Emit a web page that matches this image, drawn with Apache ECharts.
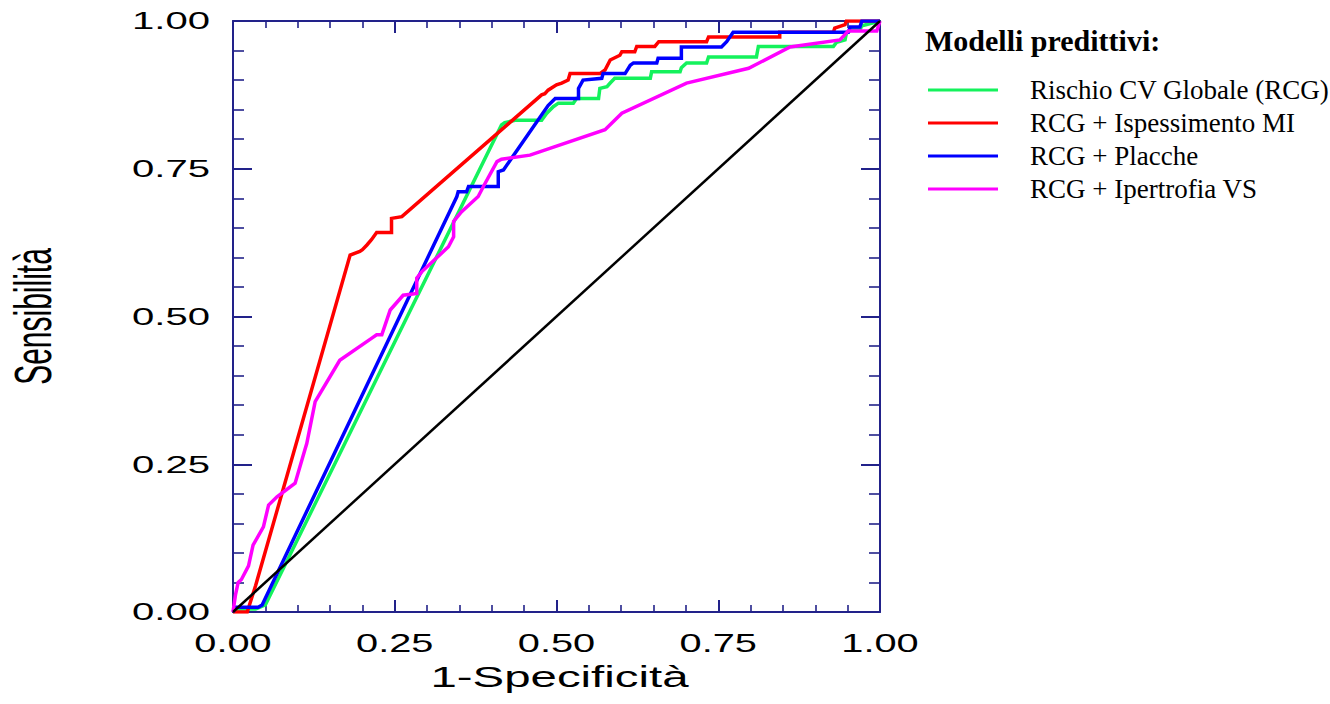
<!DOCTYPE html>
<html>
<head>
<meta charset="utf-8">
<title>Curve ROC – Modelli predittivi</title>
<script src="https://cdn.jsdelivr.net/npm/echarts/dist/echarts.min.js"></script>
<style>
  html, body { margin: 0; padding: 0; background: #fff; }
  #chart { width: 1330px; height: 704px; }
</style>
</head>
<body>
<div id="chart"></div>
<script>
// ROC curves: [1-specificity, sensitivity]
const rcg = [
  [0, 0], [0.008, 0.005], [0.035, 0.005], [0.05, 0.012], [0.415, 0.824], [0.42, 0.828],
  [0.436, 0.832], [0.477, 0.832], [0.485, 0.844], [0.495, 0.855], [0.503, 0.861],
  [0.526, 0.861], [0.531, 0.869], [0.565, 0.869], [0.567, 0.886], [0.578, 0.889],
  [0.583, 0.895], [0.590, 0.903], [0.645, 0.903], [0.647, 0.914], [0.691, 0.914],
  [0.693, 0.921], [0.701, 0.929], [0.732, 0.929], [0.735, 0.939], [0.809, 0.939],
  [0.812, 0.957], [0.928, 0.957], [0.933, 0.964], [0.946, 0.968], [0.948, 0.979],
  [0.955, 0.985], [0.969, 0.985], [0.972, 0.992], [1, 1]
];
const rcgIspessimento = [
  [0, 0], [0.022, 0], [0.035, 0.045], [0.181, 0.604], [0.196, 0.610], [0.200, 0.613],
  [0.207, 0.621], [0.214, 0.630], [0.222, 0.642], [0.245, 0.642], [0.245, 0.666],
  [0.261, 0.669], [0.477, 0.875], [0.482, 0.877], [0.487, 0.883], [0.500, 0.892],
  [0.508, 0.895], [0.518, 0.900], [0.521, 0.911], [0.567, 0.911], [0.575, 0.917],
  [0.583, 0.934], [0.598, 0.942], [0.601, 0.948], [0.621, 0.948], [0.624, 0.957],
  [0.652, 0.957], [0.658, 0.965], [0.732, 0.965], [0.735, 0.973], [0.845, 0.973],
  [0.845, 0.981], [0.928, 0.981], [0.930, 0.988], [0.946, 0.994], [0.948, 1.0], [1, 1]
];
const rcgPlacche = [
  [0, 0], [0.004, 0.008], [0.039, 0.008], [0.045, 0.012], [0.346, 0.703], [0.348, 0.711],
  [0.361, 0.711], [0.364, 0.720], [0.410, 0.720], [0.410, 0.745], [0.418, 0.748],
  [0.487, 0.857], [0.498, 0.869], [0.534, 0.869], [0.534, 0.886], [0.541, 0.900],
  [0.570, 0.903], [0.572, 0.911], [0.606, 0.911], [0.614, 0.925], [0.619, 0.929],
  [0.655, 0.929], [0.657, 0.937], [0.693, 0.937], [0.693, 0.956], [0.755, 0.956],
  [0.763, 0.965], [0.773, 0.981], [0.951, 0.981], [0.954, 0.990], [0.969, 0.990],
  [0.972, 1.0], [1, 1]
];
const rcgIpertrofia = [
  [0, 0], [0.004, 0.03], [0.008, 0.05], [0.013, 0.055], [0.024, 0.078], [0.031, 0.113],
  [0.047, 0.144], [0.055, 0.181], [0.068, 0.195], [0.096, 0.218], [0.111, 0.274],
  [0.114, 0.285], [0.127, 0.356], [0.165, 0.426], [0.214, 0.463], [0.222, 0.469],
  [0.230, 0.469], [0.243, 0.511], [0.263, 0.536], [0.284, 0.539], [0.284, 0.565],
  [0.292, 0.576], [0.333, 0.618], [0.341, 0.635], [0.341, 0.661], [0.353, 0.677],
  [0.379, 0.703], [0.387, 0.720], [0.408, 0.762], [0.415, 0.766], [0.459, 0.773],
  [0.575, 0.816], [0.601, 0.844], [0.701, 0.895], [0.797, 0.920], [0.861, 0.956],
  [0.938, 0.968], [0.951, 0.983], [0.995, 0.983], [1, 1]
];
const reference = [[0, 0], [1, 1]];

const seriesNames = [
  'Rischio CV Globale (RCG)',
  'RCG + Ispessimento MI',
  'RCG + Placche',
  'RCG + Ipertrofia VS'
];
const xTickLabels = ['0.00', '0.25', '0.50', '0.75', '1.00'];
const yTickLabels = ['0.00', '0.25', '0.50', '0.75', '1.00'];
const xAxisTitle = '1-Specificità';
const yAxisTitle = 'Sensibilità';
const legendTitle = 'Modelli predittivi:';

const axisColor = '#22228a';
const colors = ['#14f25c', '#ff0000', '#0000ff', '#ff00ff'];

const chart = echarts.init(document.getElementById('chart'), null, { renderer: 'svg' });

function axis(position, majorLen, minorLen) {
  return {
    type: 'value', min: 0, max: 1, interval: 0.25, position: position,
    axisLine: { show: true, onZero: false, lineStyle: { color: axisColor, width: 2 } },
    axisTick: { show: true, inside: true, length: majorLen, lineStyle: { color: axisColor, width: 2 } },
    minorTick: { show: true, splitNumber: 5, length: minorLen, lineStyle: { color: axisColor, width: 1.6 } },
    axisLabel: { show: false },
    splitLine: { show: false },
    minorSplitLine: { show: false }
  };
}

function curve(name, data, color) {
  return {
    name: name, type: 'line', data: data, color: color,
    showSymbol: false, symbol: 'none', smooth: false,
    xAxisIndex: 0, yAxisIndex: 0,
    lineStyle: { color: color, width: 3.5, join: 'miter' }
  };
}

chart.setOption({
  animation: false,
  backgroundColor: '#ffffff',
  grid: { left: 233, top: 21, right: 450, bottom: 92, containLabel: false },
  xAxis: [axis('bottom', 12, 7), axis('top', 12, 7)],
  yAxis: [axis('left', 19, 11), axis('right', 19, 11)],
  title: {
    text: legendTitle, left: 925, top: 25, padding: 0,
    textStyle: { fontFamily: '"Liberation Serif", "Times New Roman", serif', fontWeight: 'bold', fontSize: 30, color: '#000' }
  },
  legend: {
    data: seriesNames, orient: 'vertical', left: 928, top: 75, padding: 0,
    icon: 'rect', itemWidth: 70, itemHeight: 3, itemGap: 3,
    textStyle: {
      fontFamily: '"Liberation Serif", "Times New Roman", serif', fontSize: 27, color: '#000',
      lineHeight: 30, padding: [0, 0, 0, 27]
    }
  },
  series: [
    curve(seriesNames[0], rcg, colors[0]),
    curve(seriesNames[1], rcgIspessimento, colors[1]),
    curve(seriesNames[2], rcgPlacche, colors[2]),
    curve(seriesNames[3], rcgIpertrofia, colors[3]),
    {
      name: 'diagonale', type: 'line', data: reference, showSymbol: false, symbol: 'none',
      lineStyle: { color: '#000', width: 2.5 }, silent: true
    }
  ]
});

// Tick labels and axis titles, drawn with a wide horizontal stretch
const sans = '"Liberation Sans", Arial, sans-serif';
const gridRect = {
  left: chart.convertToPixel({ xAxisIndex: 0 }, 0),
  right: chart.convertToPixel({ xAxisIndex: 0 }, 1),
  top: chart.convertToPixel({ yAxisIndex: 0 }, 1),
  bottom: chart.convertToPixel({ yAxisIndex: 0 }, 0)
};
const texts = [];
yTickLabels.forEach(function (lab) {
  texts.push({
    type: 'text', x: gridRect.left - 23, y: chart.convertToPixel({ yAxisIndex: 0 }, parseFloat(lab)),
    scaleX: 1.67, silent: true,
    style: { text: lab, x: 0, y: 0, font: '24px ' + sans, fill: '#000',
      align: 'right', verticalAlign: 'middle', textAlign: 'right', textVerticalAlign: 'middle' }
  });
});
xTickLabels.forEach(function (lab) {
  texts.push({
    type: 'text', x: chart.convertToPixel({ xAxisIndex: 0 }, parseFloat(lab)), y: gridRect.bottom + 31,
    scaleX: 1.53, silent: true,
    style: { text: lab, x: 0, y: 0, font: '26px ' + sans, fill: '#000',
      align: 'center', verticalAlign: 'middle', textAlign: 'center', textVerticalAlign: 'middle' }
  });
});
texts.push({
  type: 'text', x: (gridRect.left + gridRect.right) / 2 + 3, y: gridRect.bottom + 64,
  scaleX: 1.58, silent: true,
  style: { text: xAxisTitle, x: 0, y: 0, font: '30px ' + sans, fill: '#000',
    align: 'center', verticalAlign: 'middle', textAlign: 'center', textVerticalAlign: 'middle' }
});
texts.push({
  type: 'text', x: 33, y: (gridRect.top + gridRect.bottom) / 2, rotation: Math.PI / 2,
  scaleY: 1.75, silent: true,
  style: { text: yAxisTitle, x: 0, y: 0, font: '30px ' + sans, fill: '#000',
    align: 'center', verticalAlign: 'middle', textAlign: 'center', textVerticalAlign: 'middle' }
});
chart.setOption({ graphic: { elements: texts } });
</script>
</body>
</html>
